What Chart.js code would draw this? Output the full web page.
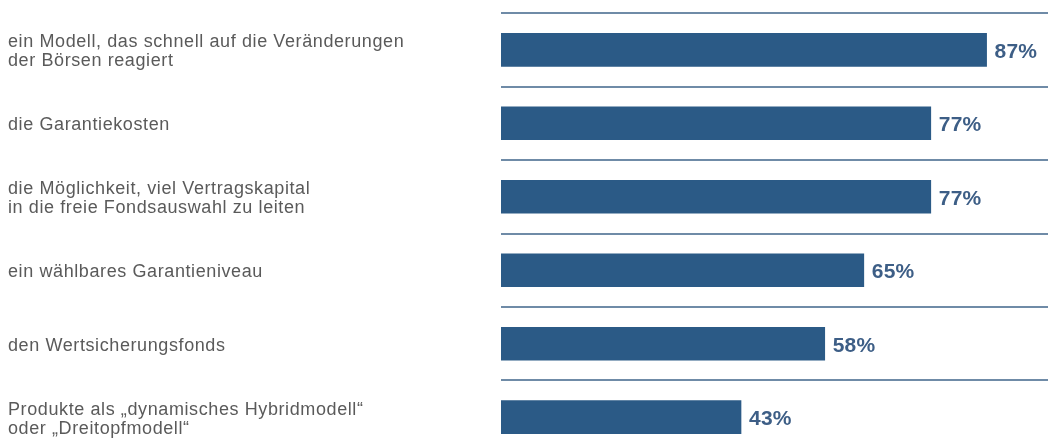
<!DOCTYPE html>
<html>
<head>
<meta charset="utf-8">
<script src="https://cdn.jsdelivr.net/npm/chart.js@4/dist/chart.umd.min.js"></script>
<style>
  html, body { margin: 0; padding: 0; background: #ffffff; overflow: hidden; }
  #wrap { position: relative; width: 1048px; height: 479px; margin-top: -6px; }
</style>
</head>
<body>
<div id="wrap"><canvas id="chart"></canvas></div>
<script>
// Survey answers (share of respondents, %)
const categories = [
  ["ein Modell, das schnell auf die Veränderungen", "der Börsen reagiert"],
  "die Garantiekosten",
  ["die Möglichkeit, viel Vertragskapital", "in die freie Fondsauswahl zu leiten"],
  "ein wählbares Garantieniveau",
  "den Wertsicherungsfonds",
  ["Produkte als „dynamisches Hybridmodell“", "oder „Dreitopfmodell“"]
];
const values = [87, 77, 77, 65, 58, 43];
const valueSuffix = "%";

// Slightly open letter spacing for the category labels
const textSpacing = {
  id: "textSpacing",
  beforeDraw(chart) { chart.ctx.letterSpacing = "0.6px"; },
  afterDraw(chart) { chart.ctx.letterSpacing = "0px"; }
};

// Writes each value just past the end of its bar
const valueLabels = {
  id: "valueLabels",
  afterDatasetsDraw(chart) {
    const ctx = chart.ctx;
    const meta = chart.getDatasetMeta(0);
    ctx.save();
    ctx.letterSpacing = "0.2px";
    ctx.font = "bold 21px 'Liberation Sans', Arial, sans-serif";
    ctx.fillStyle = "#3d5e86";
    ctx.textAlign = "left";
    ctx.textBaseline = "middle";
    meta.data.forEach((bar, i) => {
      ctx.fillText(values[i] + valueSuffix, bar.x + 8, bar.y + 2);
    });
    ctx.restore();
  }
};

new Chart(document.getElementById("chart"), {
  type: "bar",
  data: {
    labels: categories,
    datasets: [{
      data: values,
      backgroundColor: "#2b5a86",
      borderWidth: 0,
      barThickness: 33
    }]
  },
  options: {
    indexAxis: "y",
    responsive: true,
    maintainAspectRatio: false,
    animation: false,
    layout: { padding: { left: 8, right: 0, top: 0, bottom: 0 } },
    plugins: {
      legend: { display: false },
      tooltip: { enabled: false }
    },
    scales: {
      x: {
        display: false,
        min: 0,
        max: 98
      },
      y: {
        position: "left",
        afterFit(scale) { scale.width = 493; },
        border: { display: false },
        grid: {
          display: true,
          offset: true,
          drawTicks: false,
          color: "#6f8ba7",
          lineWidth: 2
        },
        ticks: {
          crossAlign: "far",
          padding: 0,
          labelOffset: 2,
          color: "#5a5a5a",
          font: { family: "'Liberation Sans', Arial, sans-serif", size: 18, lineHeight: 1.06 }
        }
      }
    }
  },
  plugins: [textSpacing, valueLabels]
});
</script>
</body>
</html>
